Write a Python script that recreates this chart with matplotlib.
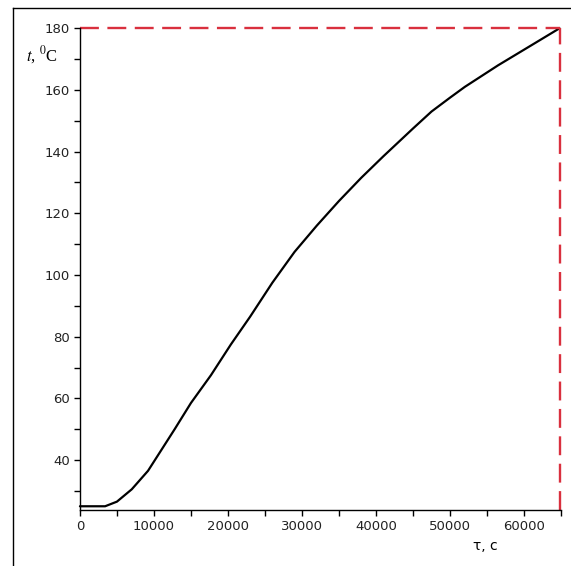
import matplotlib.pyplot as plt
from matplotlib.lines import Line2D

# heating curve: time in seconds, temperature in degrees C
time_s = [0, 3400, 5000, 7000, 9200, 10000, 12800, 15000, 17700, 20400, 23000,
          26000, 29000, 32000, 35000, 38000, 41000, 43000, 45000, 47500, 50000,
          52000, 56500, 61000, 64800]
temp_c = [25, 25, 26.5, 30.5, 36.5, 39.5, 50, 58.5, 67.5, 77.5, 86.5,
          97.5, 107.5, 116, 124, 131.5, 138.5, 143, 147.5, 153, 157.5,
          161, 168, 174.5, 180]

x_ticks = [0, 10000, 20000, 30000, 40000, 50000, 60000]
y_ticks = [40, 60, 80, 100, 120, 140, 160, 180]

t_end = time_s[-1]
t_max = temp_c[-1]
y_low = 23.8

fig = plt.figure(figsize=(5.71, 5.66), dpi=100)
ax = fig.add_axes([0.140, 0.099, 0.8425, 0.851])

ax.plot(time_s, temp_c, color="black", lw=1.6, solid_capstyle="round", clip_on=False)
# bounding dashes at the final point
ax.plot([0, t_end], [t_max, t_max], color="#d9303e", lw=1.7, ls=(0, (8.0, 3.6)), clip_on=False)
ax.plot([t_end, t_end], [y_low, t_max], color="#d9303e", lw=1.7, ls=(0, (8.0, 3.6)), clip_on=False)

ax.set_xlim(0, t_end)
ax.set_ylim(y_low, 180)
ax.set_xticks(x_ticks)
ax.set_xticks([5000 + 10000 * i for i in range(7)], minor=True)
ax.set_yticks(y_ticks)
ax.set_yticks([30 + 20 * i for i in range(8)], minor=True)

for s in ["top", "right"]:
    ax.spines[s].set_visible(False)
for s in ["left", "bottom"]:
    ax.spines[s].set_linewidth(1.0)

ax.tick_params(which="both", direction="out", length=4, width=1.0, labelsize=9.5, pad=3,
               labelcolor="#222222")

fig.text(0.045, 0.893, r"$t$, $^0$C", fontfamily="Liberation Serif", fontsize=12,
         math_fontfamily="stix")
fig.text(0.828, 0.028, "τ, c", fontfamily="DejaVu Sans", fontsize=10)

# outer frame lines
fig.add_artist(Line2D([13 / 571, 1], [1 - 8 / 566, 1 - 8 / 566], color="black", lw=1.0))
fig.add_artist(Line2D([13 / 571, 13 / 571], [0, 1 - 8 / 566], color="black", lw=1.0))

fig.savefig("out.png", dpi=100)
